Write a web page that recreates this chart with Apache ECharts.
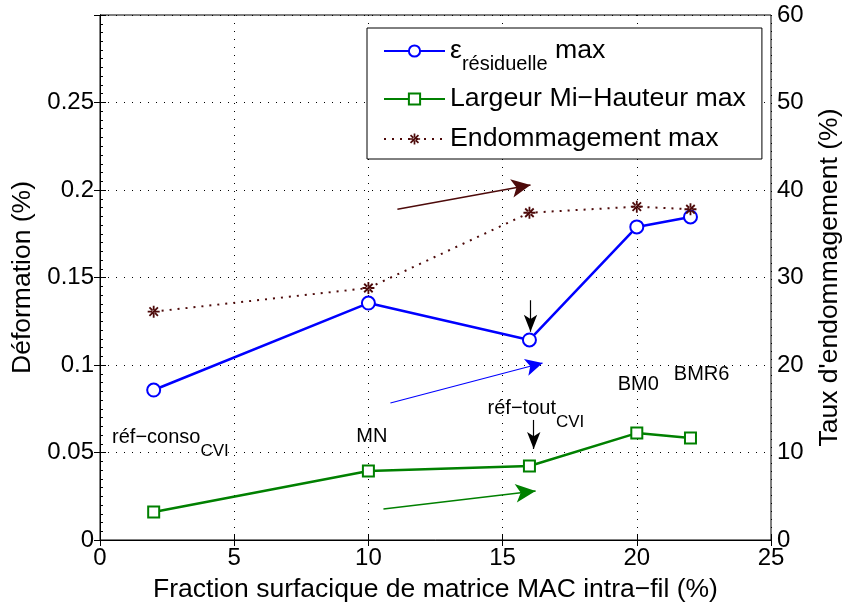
<!DOCTYPE html>
<html><head><meta charset="utf-8">
<script src="https://cdn.jsdelivr.net/npm/echarts@6/dist/echarts.min.js"></script>
<style>html,body{margin:0;padding:0;background:#fff}#c{width:842px;height:610px}</style>
</head><body><div id="c"></div>
<script>
// ---- data ----
const xValues = [2, 10, 16, 20, 22];
const epsValues = [0.0857, 0.1354, 0.1143, 0.1789, 0.1846];
const lmhValues = [0.0160, 0.0394, 0.0423, 0.0611, 0.0583];
const endoValues = [26.1, 28.8, 37.4, 38.1, 37.8];
const seriesNames = ['eps', 'Largeur Mi−Hauteur max', 'Endommagement max'];
const pointLabels = [
  { main: 'réf−conso', sub: 'CVI', x: 0.45, y: 0.0585 },
  { main: 'MN', sub: '', x: 9.55, y: 0.0589 },
  { main: 'réf−tout', sub: 'CVI', x: 14.44, y: 0.0754 },
  { main: 'BM0', sub: '', x: 19.29, y: 0.0886 },
  { main: 'BMR6', sub: '', x: 21.38, y: 0.0943 }
];
// arrows: [x1, y1, x2(tip), y2(tip)] in data units (left axis, except brown on right axis)
const blueArrow = [10.82, 0.0783, 16.49, 0.1011];
const greenArrow = [10.56, 0.0177, 16.23, 0.0280];
const brownArrow = [11.08, 37.8, 16.04, 40.57];
const blackArrows = [[16.04, 0.137, 16.04, 0.1190], [16.16, 0.0686, 16.16, 0.0520]];

const FONT = '"Liberation Sans", Arial, Helvetica, sans-serif';
const BLUE = '#0000ff', GREEN = '#008000', BROWN = '#4d0a0a';
const ASTERISK = 'path://M-0.15,-1L0.15,-1L0.15,1L-0.15,1Z M-1,-0.15L1,-0.15L1,0.15L-1,0.15Z M0.601,-0.813L0.813,-0.601L-0.601,0.813L-0.813,0.601Z M-0.601,-0.813L-0.813,-0.601L0.601,0.813L0.813,0.601Z';

const chart = echarts.init(document.getElementById('c'), null, { renderer: 'canvas' });

function arrowItem(a, color, w, size) {
  return [{ coord: [a[0], a[1]], symbol: 'none', lineStyle: { color: color, width: w, type: 'solid' }, itemStyle: { color: color } },
          { coord: [a[2], a[3]], symbol: 'arrow', symbolSize: size, itemStyle: { color: color } }];
}
const black = '#000';
const axisCommon = {
  axisLine: { show: true, lineStyle: { color: black, width: 1 } },
  axisTick: { show: true, inside: true, length: 6, lineStyle: { color: black } },
  axisLabel: { color: black, fontSize: 24, fontFamily: FONT, margin: 6 },
  nameTextStyle: { color: black, fontSize: 26.5, fontFamily: FONT }
};
const gridLine = { show: true, lineStyle: { color: '#000', width: 1, type: [1, 7] } };

const option = {
  animation: false,
  backgroundColor: '#fff',
  textStyle: { fontFamily: FONT },
  grid: { left: 100, right: 71, top: 15, bottom: 70, show: true, borderColor: black, borderWidth: 1,
          containLabel: false, outerBoundsMode: 'none' },
  legend: {
    orient: 'vertical', left: 367, top: 28,
    padding: [0, 16, 5, 16], itemGap: 10, itemWidth: 61, itemHeight: 14,
    backgroundColor: '#fff', borderColor: black, borderWidth: 1,
    data: seriesNames,
    textStyle: {
      fontSize: 26.7, color: black, fontFamily: FONT, lineHeight: 30,
      rich: {
        e: { fontSize: 26.7, color: black, fontFamily: FONT, lineHeight: 30 },
        s: { fontSize: 20, color: black, fontFamily: FONT, lineHeight: 4, padding: [26, 0, 0, 0] },
        m: { fontSize: 26.7, color: black, fontFamily: FONT, lineHeight: 30 }
      }
    },
    formatter: function (n) { return n === 'eps' ? '{e|ε}{s|résiduelle}{m| max}' : n; }
  },
  xAxis: [
    Object.assign({}, axisCommon, {
      type: 'value', min: 0, max: 25, interval: 5,
      name: 'Fraction surfacique de matrice MAC intra−fil (%)', nameLocation: 'middle', nameGap: 36,
      splitLine: gridLine
    }),
    { type: 'value', position: 'top', min: 0, max: 25, interval: 5,
      axisLine: { show: true, lineStyle: { color: black } },
      axisTick: { show: true, inside: true, length: 6, lineStyle: { color: black } },
      axisLabel: { show: false }, splitLine: { show: false } }
  ],
  yAxis: [
    Object.assign({}, axisCommon, {
      type: 'value', min: 0, max: 0.3, interval: 0.05,
      name: 'Déformation (%)', nameLocation: 'middle', nameGap: 64, nameRotate: 90,
      axisLabel: Object.assign({}, axisCommon.axisLabel, {
        formatter: function (v) { return v > 0.29 ? '' : String(+v.toFixed(2)); }
      }),
      minorTick: { show: true, splitNumber: 10, length: 3, lineStyle: { color: black } },
      splitLine: gridLine
    }),
    Object.assign({}, axisCommon, {
      type: 'value', min: 0, max: 60, interval: 10, position: 'right',
      name: "Taux d'endommagement (%)", nameLocation: 'middle', nameGap: 45, nameRotate: 90,
      splitLine: { show: false }
    })
  ],
  series: [
    {
      name: seriesNames[0], type: 'line', yAxisIndex: 0,
      data: xValues.map((x, i) => [x, epsValues[i]]),
      symbol: 'emptyCircle', symbolSize: 13,
      lineStyle: { color: BLUE, width: 2.5 }, itemStyle: { color: BLUE, borderWidth: 2 },
      emphasis: { disabled: true }, z: 3,
      markLine: {
        silent: true, animation: false, symbol: ['none', 'arrow'],
        label: { show: false }, emphasis: { disabled: true },
        data: [arrowItem(blueArrow, BLUE, 1.1, [13, 17])].concat(blackArrows.map(a => arrowItem(a, black, 1.2, [10, 17])))
      }
    },
    {
      name: seriesNames[1], type: 'line', yAxisIndex: 0,
      data: xValues.map((x, i) => [x, lmhValues[i]]),
      symbol: 'emptyRect', symbolSize: 11,
      lineStyle: { color: GREEN, width: 2.5 }, itemStyle: { color: GREEN, borderWidth: 2 },
      emphasis: { disabled: true }, z: 3,
      markLine: {
        silent: true, animation: false, symbol: ['none', 'arrow'],
        label: { show: false }, emphasis: { disabled: true },
        data: [arrowItem(greenArrow, GREEN, 1.4, [14, 20])]
      }
    },
    {
      name: seriesNames[2], type: 'line', yAxisIndex: 1,
      data: xValues.map((x, i) => [x, endoValues[i]]),
      symbol: ASTERISK, symbolSize: 12,
      lineStyle: { color: BROWN, width: 2, type: [2, 6] }, itemStyle: { color: BROWN },
      emphasis: { disabled: true }, z: 3,
      markLine: {
        silent: true, animation: false, symbol: ['none', 'arrow'],
        label: { show: false }, emphasis: { disabled: true },
        data: [arrowItem(brownArrow, BROWN, 1.4, [14, 19])]
      }
    }
  ]
};
chart.setOption(option);

const graphics = pointLabels.map(function (p) {
  const px = chart.convertToPixel({ xAxisIndex: 0, yAxisIndex: 0 }, [p.x, p.y]);
  return {
    type: 'text', x: px[0], y: px[1], z: 10,
    style: {
      text: p.sub ? '{m|' + p.main + '}{s|' + p.sub + '}' : '{m|' + p.main + '}',
      align: 'left', verticalAlign: 'middle',
      rich: {
        m: { fontSize: 20, fontFamily: FONT, fill: black, lineHeight: 24 },
        s: { fontSize: 17, fontFamily: FONT, fill: black, lineHeight: 4, padding: [28, 0, 0, 0] }
      }
    }
  };
});
chart.setOption({ graphic: graphics });
</script></body></html>
